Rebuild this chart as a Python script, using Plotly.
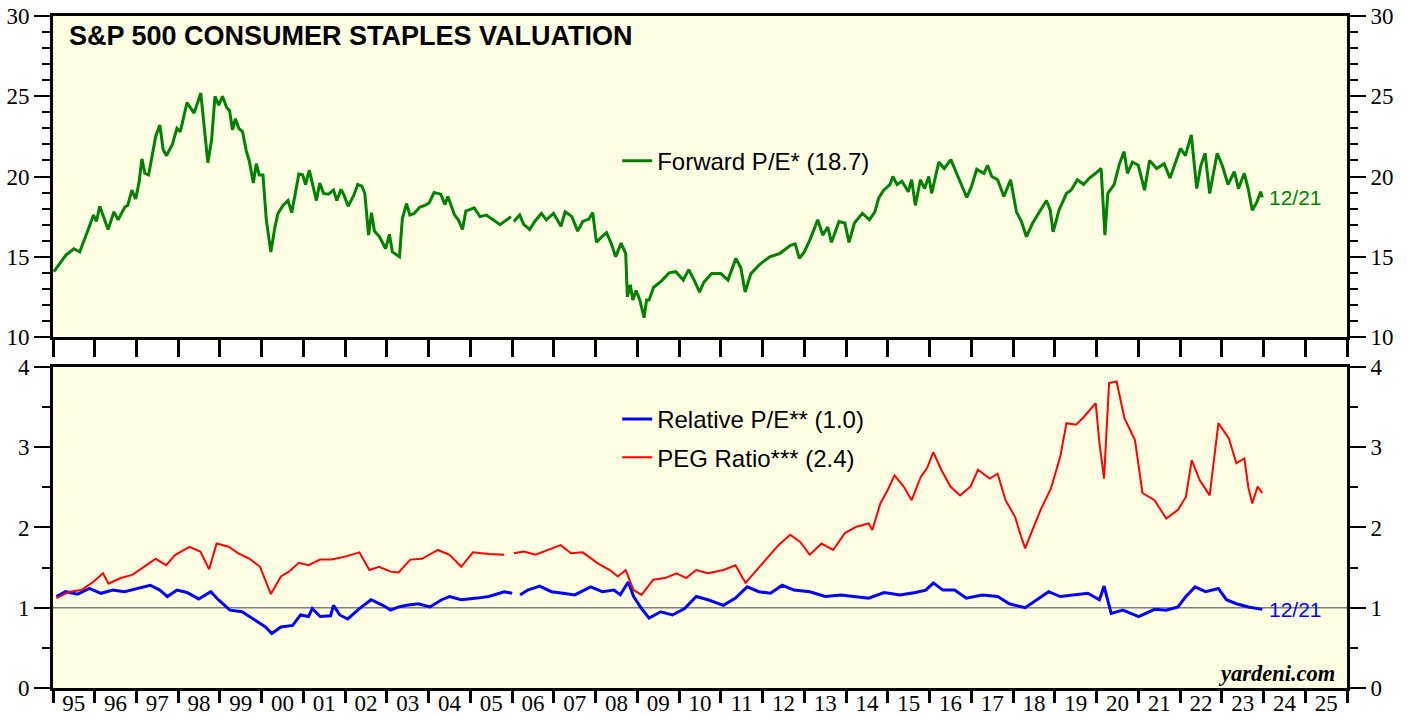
import plotly.graph_objects as go

# ---------------- data ----------------
pe_years = [1995.02,1995.31,1995.50,1995.64,1995.83,1995.97,1996.04,1996.12,1996.32,1996.46,1996.56,1996.72,1996.79,1996.89,1996.98,
            1997.06,1997.13,1997.20,1997.29,1997.46,1997.56,1997.64,1997.72,1997.86,1997.97,1998.05,1998.21,1998.38,1998.54,1998.71,
            1998.80,1998.88,1998.97,1999.06,1999.16,1999.23,1999.30,1999.37,1999.45,1999.54,1999.63,1999.70,1999.80,1999.87,1999.94,
            2000.03,2000.11,2000.22,2000.32,2000.39,2000.51,2000.63,2000.72,2000.79,2000.89,2000.98,2001.05,2001.14,2001.23,2001.31,
            2001.39,2001.48,2001.60,2001.72,2001.80,2001.90,2001.97,2002.07,2002.21,2002.30,2002.40,2002.47,2002.56,2002.63,2002.70,
            2002.82,2002.97,2003.06,2003.13,2003.30,2003.37,2003.47,2003.55,2003.65,2003.79,2003.91,2004.01,2004.13,2004.29,2004.39,
            2004.46,2004.62,2004.71,2004.81,2004.89,2005.09,2005.23,2005.38,2005.71,2005.97,2006.00,
            2006.04,2006.18,2006.28,2006.42,2006.54,2006.70,2006.82,2006.99,2007.17,2007.27,2007.43,2007.57,2007.69,2007.84,2007.93,
            2008.02,2008.15,2008.26,2008.37,2008.48,2008.61,2008.72,2008.76,2008.83,2008.89,2008.97,2009.06,2009.16,2009.22,2009.28,
            2009.39,2009.58,2009.76,2009.92,2010.10,2010.23,2010.36,2010.49,2010.59,2010.78,2011.00,2011.17,2011.36,2011.48,2011.58,
            2011.72,2011.92,2012.17,2012.41,2012.66,2012.78,2012.88,2013.00,2013.14,2013.32,2013.44,2013.56,2013.65,2013.83,2013.97,
            2014.07,2014.20,2014.39,2014.56,2014.69,2014.78,2014.90,2015.05,2015.12,2015.22,2015.34,2015.49,2015.57,2015.66,2015.78,
            2015.88,2015.98,2016.05,2016.22,2016.35,2016.51,2016.64,2016.76,2016.89,2017.00,2017.13,2017.30,2017.39,2017.49,2017.63,
            2017.78,2017.94,2018.08,2018.20,2018.32,2018.47,2018.66,2018.80,2018.89,2018.96,2019.10,2019.28,2019.39,2019.54,2019.69,
            2019.83,2019.98,2020.11,2020.20,2020.27,2020.42,2020.55,2020.66,2020.74,2020.86,2021.00,2021.15,2021.27,2021.44,2021.62,
            2021.76,2021.88,2022.01,2022.13,2022.27,2022.40,2022.50,2022.60,2022.71,2022.89,2023.01,2023.15,2023.30,2023.40,2023.54,
            2023.64,2023.73,2023.84,2023.93,2023.97]
forward_pe = [14.07,15.1,15.5,15.3,16.6,17.6,17.2,18.15,16.7,17.8,17.3,18.1,18.2,19.15,18.6,
              19.6,21.1,20.2,20.1,22.5,23.2,21.65,21.3,22.0,23.0,22.8,24.6,23.95,25.2,20.86,
              22.3,25.0,24.45,25.0,24.3,24.1,22.9,23.6,23.0,22.8,21.6,21.0,19.6,20.8,20.1,
              20.1,17.3,15.3,16.9,17.7,18.2,18.5,17.75,18.85,20.15,20.1,19.5,20.4,19.4,18.5,
              19.6,18.95,18.9,19.15,18.5,19.2,18.85,18.15,18.85,19.5,19.4,18.95,16.35,17.75,16.6,
              16.25,15.5,16.4,15.3,15.0,17.4,18.3,17.6,17.7,18.1,18.2,18.35,19.0,18.9,18.25,
              18.75,17.6,17.3,16.7,17.85,18.05,17.5,17.6,17.0,17.5,None,
              17.2,17.6,17.0,16.7,17.2,17.7,17.3,17.7,16.9,17.8,17.5,16.6,17.2,17.35,17.75,
              15.9,16.25,16.5,15.85,15.0,15.85,15.2,12.5,13.25,12.3,12.9,12.3,11.2,12.3,12.3,
              13.1,13.5,14.0,14.07,13.55,14.2,13.55,12.8,13.4,13.95,13.95,13.55,14.9,14.3,12.8,
              13.95,14.5,15.0,15.2,15.7,15.8,14.9,15.3,16.1,17.3,16.35,16.85,15.9,17.2,17.1,
              15.9,17.1,17.7,17.3,17.8,18.65,19.15,19.5,20.0,19.5,19.7,19.05,19.8,18.2,19.8,
              19.25,20.0,18.95,20.9,20.5,21.05,20.3,19.5,18.7,19.35,20.45,20.2,20.7,20.0,19.8,
              18.75,19.8,17.8,17.2,16.25,17.1,17.9,18.5,17.9,16.55,17.9,18.95,19.15,19.8,19.5,
              19.9,20.2,20.5,16.35,18.95,19.5,20.8,21.55,20.2,20.9,20.7,19.15,21.0,20.5,20.8,
              19.9,20.8,21.75,21.3,22.6,19.25,20.7,21.45,18.95,21.45,20.7,19.5,20.3,19.25,20.2,
              19.15,17.9,18.4,19.05,18.7]

rel_years = [1995.08,1995.30,1995.59,1995.87,1996.15,1996.43,1996.71,1996.99,1997.33,1997.56,1997.74,1997.97,1998.21,1998.49,1998.78,
             1998.96,1999.24,1999.53,1999.81,2000.09,2000.24,2000.46,2000.74,2000.93,2001.12,2001.21,2001.40,2001.65,2001.72,2001.87,
             2002.06,2002.34,2002.62,2002.90,2003.09,2003.28,2003.47,2003.75,2004.03,2004.31,2004.50,2004.78,2005.16,2005.44,2005.81,
             2006.00,2006.01,
             2006.19,2006.37,2006.66,2006.94,2007.22,2007.50,2007.88,2008.16,2008.44,2008.59,2008.78,2008.91,2009.10,2009.28,2009.56,
             2009.84,2010.13,2010.41,2010.69,2011.06,2011.35,2011.63,2011.91,2012.19,2012.47,2012.75,2013.13,2013.50,2013.88,2014.25,
             2014.54,2014.91,2015.29,2015.66,2015.91,2016.09,2016.32,2016.60,2016.88,2017.26,2017.63,2017.91,2018.29,2018.57,2018.85,
             2019.13,2019.51,2019.79,2020.07,2020.18,2020.35,2020.63,2021.01,2021.39,2021.67,2021.95,2022.14,2022.36,2022.61,2022.92,
             2023.11,2023.35,2023.64,2023.92,2023.97]
relative_pe = [1.14,1.20,1.17,1.24,1.18,1.22,1.20,1.24,1.28,1.22,1.14,1.22,1.19,1.11,1.20,
               1.10,0.97,0.95,0.86,0.76,0.68,0.76,0.78,0.91,0.89,0.99,0.89,0.90,1.03,0.91,
               0.86,0.99,1.10,1.03,0.97,1.01,1.03,1.05,1.01,1.10,1.14,1.10,1.12,1.14,1.20,
               1.18,None,
               1.16,1.22,1.27,1.20,1.18,1.16,1.26,1.20,1.22,1.16,1.32,1.14,0.99,0.87,0.95,
               0.91,0.99,1.14,1.10,1.03,1.12,1.26,1.20,1.18,1.28,1.22,1.20,1.14,1.16,1.14,
               1.12,1.19,1.16,1.19,1.22,1.31,1.22,1.22,1.12,1.16,1.14,1.05,1.00,1.10,1.20,
               1.14,1.16,1.18,1.10,1.27,0.93,0.97,0.89,0.98,0.97,1.01,1.14,1.26,1.20,1.24,
               1.10,1.05,1.01,0.99,0.98]

peg_years = [1995.08,1995.40,1995.68,1995.96,1996.20,1996.33,1996.62,1996.90,1997.18,1997.46,1997.71,1997.93,1998.27,1998.53,1998.74,
             1998.92,1999.21,1999.43,1999.71,1999.96,2000.22,2000.46,2000.65,2000.89,2001.12,2001.40,2001.68,2002.02,2002.34,2002.58,
             2002.81,2003.09,2003.28,2003.56,2003.84,2004.22,2004.50,2004.78,2005.06,2005.44,2005.81,2006.00,
             2006.04,2006.28,2006.56,2006.84,2007.16,2007.41,2007.69,2008.06,2008.34,2008.53,2008.72,2008.91,2009.10,2009.38,2009.66,
             2009.94,2010.17,2010.41,2010.69,2011.06,2011.35,2011.59,2011.82,2012.10,2012.38,2012.66,2012.90,2013.13,2013.41,2013.69,
             2013.97,2014.25,2014.54,2014.63,2014.82,2015.00,2015.16,2015.38,2015.57,2015.79,2015.94,2016.09,2016.28,2016.50,2016.73,
             2016.98,2017.16,2017.44,2017.63,2017.82,2018.05,2018.19,2018.29,2018.48,2018.66,2018.91,2019.13,2019.28,2019.51,2019.70,
             2019.98,2020.07,2020.18,2020.30,2020.48,2020.67,2020.92,2021.10,2021.39,2021.67,2021.95,2022.14,2022.28,2022.47,2022.71,
             2022.92,2023.17,2023.35,2023.54,2023.64,2023.73,2023.86,2023.97]
peg_ratio = [1.12,1.20,1.22,1.32,1.43,1.30,1.37,1.41,1.51,1.61,1.53,1.66,1.76,1.70,1.48,
             1.80,1.76,1.68,1.61,1.51,1.17,1.39,1.45,1.56,1.53,1.60,1.60,1.64,1.69,1.47,
             1.51,1.45,1.44,1.60,1.61,1.72,1.66,1.51,1.69,1.67,1.66,None,
             1.68,1.70,1.66,1.72,1.78,1.68,1.69,1.55,1.47,1.39,1.47,1.22,1.16,1.35,1.37,
             1.43,1.37,1.47,1.43,1.47,1.53,1.31,1.45,1.61,1.78,1.91,1.82,1.66,1.80,1.72,
             1.93,2.01,2.05,1.97,2.30,2.47,2.65,2.51,2.34,2.63,2.74,2.94,2.72,2.51,2.40,
             2.51,2.72,2.61,2.67,2.34,2.13,1.89,1.74,1.99,2.22,2.49,2.88,3.30,3.28,3.38,
             3.55,3.05,2.61,3.80,3.82,3.36,3.09,2.43,2.34,2.11,2.22,2.38,2.84,2.59,2.40,
             3.30,3.11,2.80,2.86,2.49,2.30,2.51,2.43]

year_edges = list(range(1995, 2027))
year_mids = [y + 0.5 for y in range(1995, 2026)]
year_labels = [str(y)[2:] for y in range(1995, 2026)]

GREEN = "#008000"
BLUE = "#0000FF"
RED = "#FF0000"
BG = "#FFFFE4"
SERIF = "Liberation Serif"
SANS = "Liberation Sans"

fig = go.Figure()
fig.add_trace(go.Scatter(x=pe_years, y=forward_pe, mode="lines", name="Forward P/E* (18.7)",
                         line=dict(color=GREEN, width=3), xaxis="x", yaxis="y", legend="legend"))
fig.add_trace(go.Scatter(x=rel_years, y=relative_pe, mode="lines", name="Relative P/E** (1.0)",
                         line=dict(color=BLUE, width=3), xaxis="x2", yaxis="y2", legend="legend2",
                         legendgroup="a"))
fig.add_trace(go.Scatter(x=peg_years, y=peg_ratio, mode="lines", name="PEG Ratio*** (2.4)",
                         line=dict(color=RED, width=2), xaxis="x2", yaxis="y2", legend="legend2",
                         legendgroup="b"))
# carriers for the right-hand axes
fig.add_trace(go.Scatter(x=[None], y=[None], xaxis="x", yaxis="y3", showlegend=False, hoverinfo="skip"))
fig.add_trace(go.Scatter(x=[None], y=[None], xaxis="x2", yaxis="y4", showlegend=False, hoverinfo="skip"))

tickfont = dict(family=SERIF, size=23, color="black")
ycommon = dict(showgrid=False, zeroline=False, showline=True, linecolor="black", linewidth=3,
               ticks="outside", ticklen=16, tickwidth=2, tickcolor="black", tickfont=tickfont,
               fixedrange=True, automargin=False)
top_dom = [0.5223, 1.0]
bot_dom = [0.0, 0.4777]

fig.update_layout(
    width=1407, height=717,
    margin=dict(l=53, r=60, t=16, b=29, autoexpand=False),
    paper_bgcolor="white", plot_bgcolor=BG,
    xaxis=dict(domain=[0, 1], anchor="y", range=[1995, 2026], showgrid=False, zeroline=False,
               showline=True, linecolor="black", linewidth=3, mirror=True, automargin=False,
               tickmode="array", tickvals=year_edges, showticklabels=False,
               ticks="outside", ticklen=17, tickwidth=3, tickcolor="black"),
    xaxis2=dict(domain=[0, 1], anchor="y2", range=[1995, 2026], showgrid=False, zeroline=False,
                showline=True, linecolor="black", linewidth=3, mirror=True, automargin=False,
                tickmode="array", tickvals=year_mids, ticktext=year_labels, ticks="",
                tickfont=tickfont, ticklabelstandoff=-8,
                minor=dict(tickmode="array", tickvals=year_edges, ticks="outside",
                           ticklen=12, tickwidth=3, tickcolor="black", showgrid=False)),
    yaxis=dict(domain=top_dom, anchor="x", range=[10, 30], tickmode="array",
               tickvals=[10, 15, 20, 25, 30],
               minor=dict(dtick=1, ticks="outside", ticklen=8, tickwidth=2, tickcolor="black"),
               **ycommon),
    yaxis3=dict(overlaying="y", side="right", anchor="x", range=[10, 30], tickmode="array",
                tickvals=[10, 15, 20, 25, 30],
                minor=dict(dtick=1, ticks="outside", ticklen=8, tickwidth=2, tickcolor="black"),
                **ycommon),
    yaxis2=dict(domain=bot_dom, anchor="x2", range=[0, 4], tickmode="array",
                tickvals=[0, 1, 2, 3, 4],
                minor=dict(dtick=0.5, ticks="outside", ticklen=8, tickwidth=2, tickcolor="black"),
                **ycommon),
    yaxis4=dict(overlaying="y2", side="right", anchor="x2", range=[0, 4], tickmode="array",
                tickvals=[0, 1, 2, 3, 4],
                minor=dict(dtick=0.5, ticks="outside", ticklen=8, tickwidth=2, tickcolor="black"),
                **ycommon),
    legend=dict(x=0.436, y=0.784, xanchor="left", yanchor="middle", bgcolor="rgba(0,0,0,0)",
                font=dict(family=SANS, size=24, color="black"), borderwidth=0),
    legend2=dict(x=0.436, y=0.433, xanchor="left", yanchor="top", bgcolor="rgba(0,0,0,0)",
                 font=dict(family=SANS, size=24, color="black"), borderwidth=0,
                 tracegroupgap=4),
    shapes=[dict(type="line", xref="x2 domain", x0=0, x1=1, yref="y2", y0=1, y1=1,
                 line=dict(color="#7F7F7F", width=1.5), layer="below")],
    annotations=[
        dict(text="<b>S&P 500 CONSUMER STAPLES VALUATION</b>", xref="paper", yref="paper",
             x=0.0105, y=0.970, xanchor="left", yanchor="middle", showarrow=False,
             font=dict(family=SANS, size=27, color="black")),
        dict(text="12/21", xref="x", yref="y", x=pe_years[-1], y=forward_pe[-1],
             xanchor="left", yanchor="middle", xshift=5, showarrow=False,
             font=dict(family=SANS, size=21, color=GREEN)),
        dict(text="12/21", xref="x2", yref="y2", x=rel_years[-1], y=relative_pe[-1],
             xanchor="left", yanchor="middle", xshift=5, showarrow=False,
             font=dict(family=SANS, size=21, color=BLUE)),
        dict(text="<b><i>yardeni.com</i></b>", xref="paper", yref="paper",
             x=0.992, y=0.022, xanchor="right", yanchor="middle", showarrow=False,
             font=dict(family=SERIF, size=22.5, color="black")),
    ],
)

fig.write_html("out.html", config={"displayModeBar": False},
               post_script="document.body.style.margin='0';")
